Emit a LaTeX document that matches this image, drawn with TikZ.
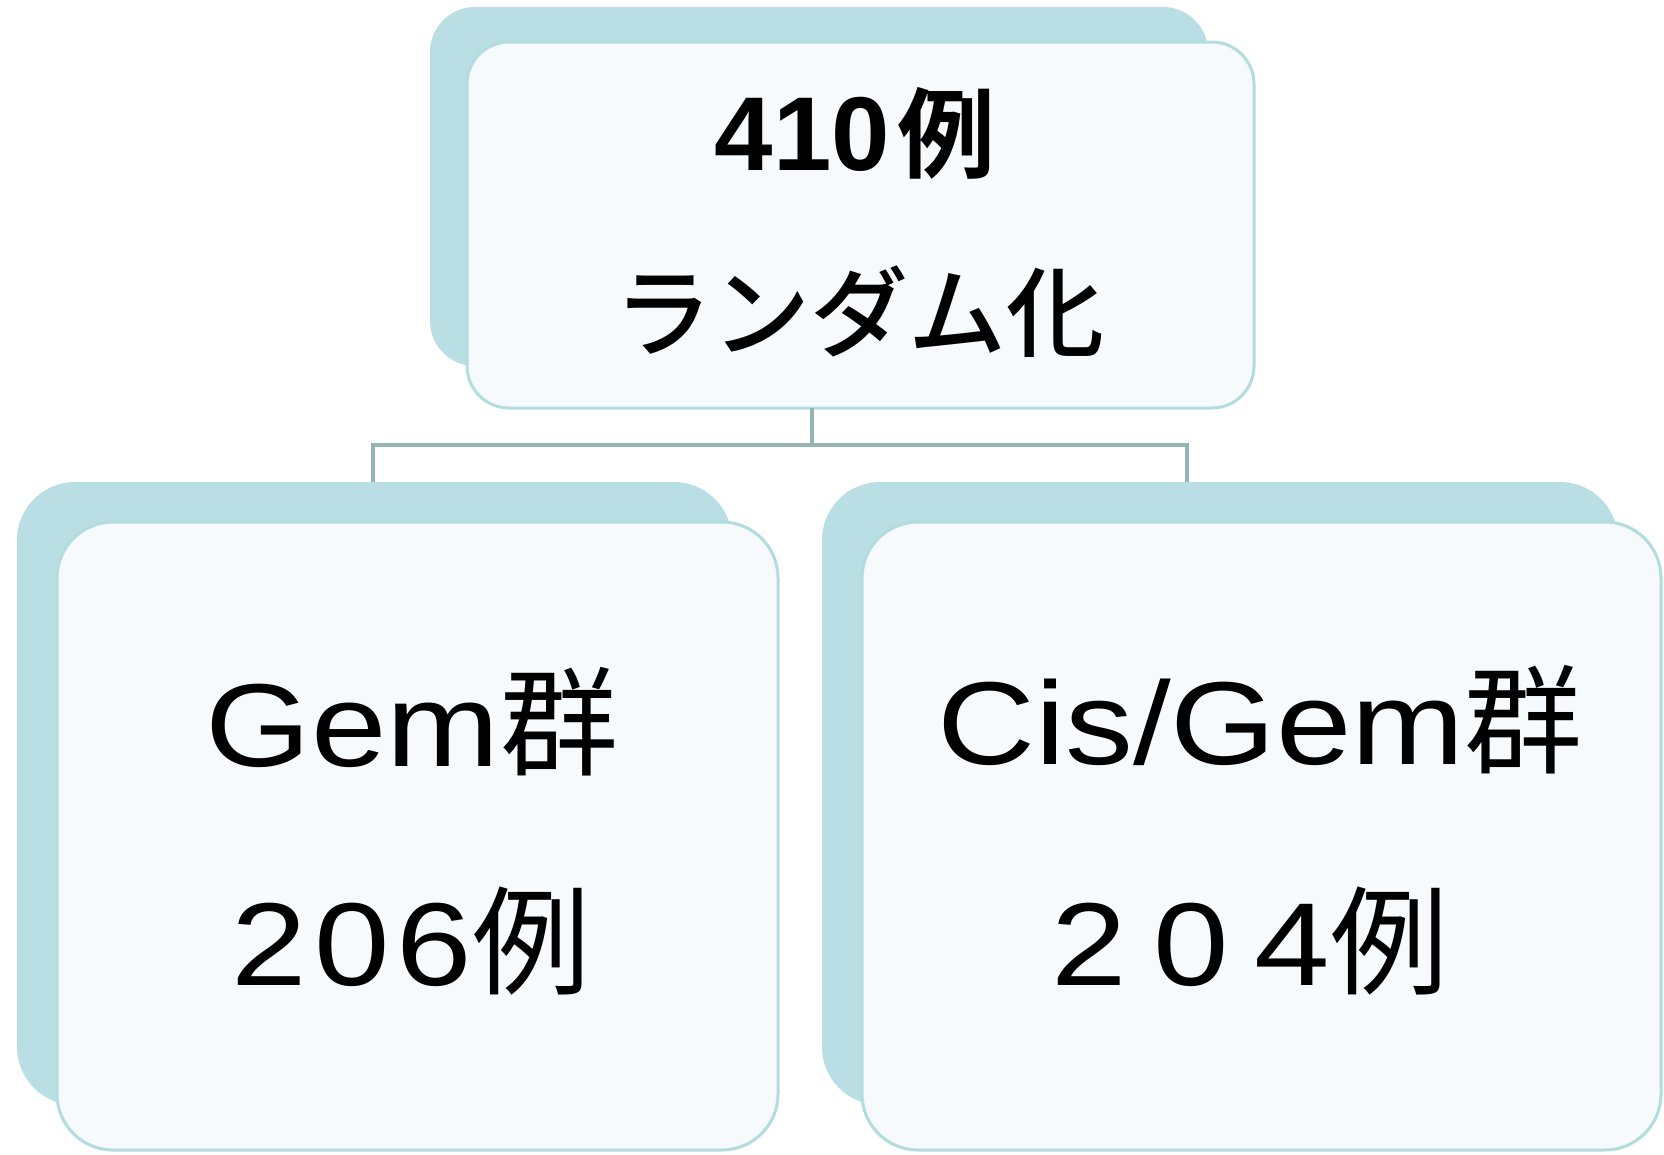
\documentclass[tikz,border=0pt]{standalone}
\usepackage{fontspec}
\setmainfont{Liberation Sans}
\newfontfamily\jp{Noto Sans CJK JP}
\newfontfamily\jpbold{Noto Sans CJK JP Bold}
\newfontfamily\jpmed{Noto Sans CJK JP Medium}
\newfontfamily\lat[FakeStretch=1.15]{Liberation Sans}
\definecolor{backc}{HTML}{B9DFE4}
\definecolor{frontc}{HTML}{F6FAFC}
\definecolor{edgec}{HTML}{B3DCDF}
\definecolor{connc}{HTML}{94B4B6}
\begin{document}
\begin{tikzpicture}[x=1pt,y=-1pt,
  back/.style={fill=backc, draw=none, inner sep=0pt, outer sep=0pt},
  front/.style={fill=frontc, draw=edgec, line width=3pt, inner sep=0pt, outer sep=0pt},
  conn/.style={draw=connc, line width=3.5pt},
  txt/.style={inner sep=0pt, outer sep=0pt, text=black, anchor=base}]
\useasboundingbox (0,0) rectangle (1664,1154);
% top box
\node[back, minimum width=778pt, minimum height=359pt, rounded corners=45pt] (topback) at (819,186.5) {};
\node[front, minimum width=787pt, minimum height=366pt, rounded corners=42pt] (topfront) at (860.5,225) {};
% bottom left
\node[back, minimum width=715pt, minimum height=623pt, rounded corners=58pt] (blback) at (374.5,793.5) {};
\node[front, minimum width=721pt, minimum height=628pt, rounded corners=56pt] (blfront) at (417.5,836) {};
% bottom right
\node[back, minimum width=796pt, minimum height=623pt, rounded corners=58pt] (brback) at (1220,793.5) {};
\node[front, minimum width=799pt, minimum height=628pt, rounded corners=56pt] (brfront) at (1261.5,836) {};
% connectors
\coordinate (busM) at (812,445);
\coordinate (busL) at (373,445);
\coordinate (busR) at (1187,445);
\draw[conn] (topfront.south -| busM) -- (busM);
\draw[conn, line cap=rect] (busL) -- (busR);
\draw[conn] (busL) -- (busL |- blback.north);
\draw[conn] (busR) -- (busR |- brback.north);
% texts
\node[txt] (t410) at (855,170) {\fontsize{105}{110}\selectfont{\bfseries 410}\hspace{7pt}{\jpbold\fontsize{98}{100}\selectfont 例}};
\node[txt] (trand) at (859,349) {\jpmed\fontsize{98}{100}\selectfont ランダム化};
\node[txt] (tgem) at (412,766) {\fontsize{118}{120}\selectfont{\lat Gem}{\jp 群}};
\node[txt] (t206) at (411,985) {\fontsize{118}{120}\selectfont{\lat\addfontfeature{LetterSpace=6}206}{\jp 例}};
\node[txt] (tcis) at (1260,764) {\fontsize{118}{120}\selectfont{\lat Cis/Gem}{\jp 群}};
\node[txt] (t204) at (1250,985) {\fontsize{118}{120}\selectfont{\lat\addfontfeature{LetterSpace=22}204}{\jp 例}};
\end{tikzpicture}
\end{document}
